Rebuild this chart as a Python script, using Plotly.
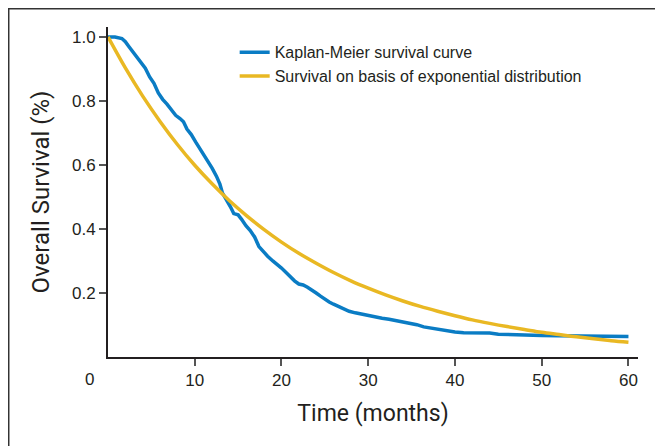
import plotly.graph_objects as go

# Kaplan-Meier survival curve
km_months = [0, 0.8, 1.6, 2.0, 2.4, 2.8, 3.3, 3.8, 4.3, 4.8, 5.3, 5.8, 6.3, 6.8, 7.3, 7.8,
             8.3, 8.7, 9.1, 9.6, 10.1, 10.6, 11.0, 11.5, 12.0, 12.5, 12.9, 13.2, 13.6, 14.1,
             14.5, 15.0, 15.4, 15.9, 16.4, 16.9, 17.4, 17.9, 18.4, 19.0, 19.5, 20.0, 20.5,
             21.0, 21.5, 22.0, 22.5, 23.0, 23.5, 24.0, 24.5, 25.0, 25.5, 26.0, 26.6, 27.2,
             27.8, 28.5, 29.2, 30.0, 30.8, 31.6, 32.4, 33.2, 34.0, 34.8, 35.6, 36.4, 37.2,
             38.0, 39.0, 40.0, 41.0, 42.5, 44.0, 45.0, 46.5, 48.0, 50.0, 52.0, 54.0, 56.0,
             58.0, 60.0]
km_survival = [1.000, 1.000, 0.995, 0.985, 0.970, 0.955, 0.938, 0.920, 0.902, 0.875, 0.855,
               0.825, 0.805, 0.790, 0.773, 0.755, 0.745, 0.735, 0.712, 0.695, 0.672, 0.650,
               0.633, 0.615, 0.590, 0.565, 0.540, 0.512, 0.495, 0.470, 0.448, 0.444, 0.430,
               0.410, 0.395, 0.375, 0.345, 0.328, 0.315, 0.300, 0.290, 0.278, 0.265, 0.250,
               0.238, 0.228, 0.225, 0.218, 0.210, 0.200, 0.190, 0.180, 0.172, 0.165, 0.158,
               0.150, 0.143, 0.138, 0.134, 0.130, 0.124, 0.121, 0.118, 0.114, 0.111, 0.107,
               0.101, 0.094, 0.090, 0.087, 0.083, 0.078, 0.076, 0.076, 0.075, 0.071, 0.069,
               0.068, 0.067, 0.066, 0.065, 0.064, 0.064, 0.064]

# Survival on basis of exponential distribution
exp_months = [0, 2, 4, 6, 8, 10, 12, 14, 16, 18, 20, 22, 24, 26, 28, 30, 32, 34, 36, 38,
              40, 42, 44, 46, 48, 50, 52, 54, 56, 58, 60]
exp_survival = [1.000, 0.903, 0.815, 0.736, 0.664, 0.599, 0.541, 0.488, 0.441, 0.398, 0.359,
                0.324, 0.293, 0.264, 0.238, 0.215, 0.194, 0.175, 0.158, 0.143, 0.129, 0.116,
                0.105, 0.095, 0.086, 0.077, 0.070, 0.063, 0.057, 0.051, 0.046]

x_ticks = [10, 20, 30, 40, 50, 60]
y_ticks = [0.2, 0.4, 0.6, 0.8, 1.0]

BLUE = "#0A7CC4"
YELLOW = "#E9B823"
FONT = "Liberation Sans, Arial, sans-serif"
TITLE_FONT = "Roboto, Liberation Sans, sans-serif"

fig = go.Figure()
fig.add_trace(go.Scatter(x=km_months, y=km_survival, mode="lines", line_shape="linear",
                         line=dict(color=BLUE, width=3.5),
                         name="Kaplan-Meier survival curve"))
fig.add_trace(go.Scatter(x=exp_months, y=exp_survival, mode="lines", line_shape="spline",
                         line=dict(color=YELLOW, width=3.5),
                         name="Survival on basis of exponential distribution"))

fig.update_layout(
    width=663, height=446,
    margin=dict(l=100, r=33, t=19, b=97),
    paper_bgcolor="white", plot_bgcolor="white",
    font=dict(family=FONT, color="#231F20"),
    showlegend=True,
    legend=dict(x=0.239, y=0.975, xanchor="left", yanchor="top",
                font=dict(size=16, color="#231F20", family=FONT),
                bgcolor="rgba(0,0,0,0)", itemwidth=30, tracegroupgap=0),
    xaxis=dict(range=[0, 61.1], tickvals=x_ticks, ticks="outside", ticklen=7, tickwidth=1.5,
               tickcolor="#555555", showline=True, linecolor="#231F20", linewidth=2,
               showgrid=False, zeroline=False, tickfont=dict(size=17), automargin=False,
               title=dict(text="Time (months)", font=dict(size=23, family=TITLE_FONT),
                          standoff=15)),
    yaxis=dict(range=[0, 1.031], tickvals=y_ticks, tickformat=".1f", ticks="outside",
               ticklen=7, tickwidth=1.5, tickcolor="#555555", showline=True,
               linecolor="#231F20", linewidth=2, showgrid=False, zeroline=False,
               tickfont=dict(size=17), automargin=False,
               title=dict(text="Overall Survival (%)", font=dict(size=24, family=TITLE_FONT),
                          standoff=16)),
    shapes=[dict(type="path", xref="paper", yref="paper",
                 path="M -0.1873,-0.3 L -0.1873,1.0553 L 1.1,1.0553",
                 line=dict(color="#333333", width=1.5))],
    annotations=[dict(text="0", xref="x", yref="paper", x=0, y=0, xanchor="center",
                      yanchor="top", xshift=-19, yshift=-11, showarrow=False,
                      font=dict(size=17, color="#231F20", family=FONT))],
)

fig.write_html("out.html")
